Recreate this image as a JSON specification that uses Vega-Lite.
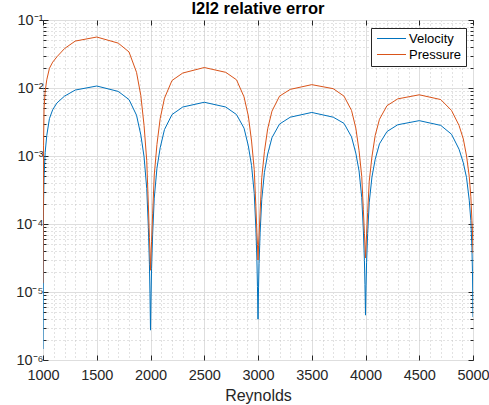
{
  "$schema": "https://vega.github.io/schema/vega-lite/v6.json",
  "width": 430,
  "height": 340,
  "autosize": {"type": "none"},
  "padding": {"left": 43, "top": 20, "right": 16, "bottom": 45},
  "background": "white",
  "title": {"text": "l2l2 relative error", "fontSize": 16.5, "fontWeight": "bold", "color": "#000000", "anchor": "middle", "offset": -5, "font": "Liberation Sans"},
  "config": {
    "view": {"stroke": "#262626", "strokeWidth": 1},
    "font": "Liberation Sans",
    "axis": {"domain": false, "tickColor": "#262626", "labelColor": "#262626", "labelFont": "Liberation Sans", "labelFontSize": 14.5, "titleFont": "Liberation Sans", "titleFontSize": 16, "titleFontWeight": "normal", "titleColor": "#262626", "labelFlush": false, "labelOverlap": false}
  },
  "data": {"values": [
    {"Re": 1000, "Velocity": 1.45e-6, "Pressure": 1.35e-5},
    {"Re": 1005, "Velocity": 2.00e-4, "Pressure": 1.41e-3},
    {"Re": 1010, "Velocity": 5.01e-4, "Pressure": 5.01e-3},
    {"Re": 1020, "Velocity": 1.12e-3, "Pressure": 8.91e-3},
    {"Re": 1035, "Velocity": 2.00e-3, "Pressure": 1.32e-2},
    {"Re": 1060, "Velocity": 3.55e-3, "Pressure": 1.95e-2},
    {"Re": 1090, "Velocity": 4.79e-3, "Pressure": 2.40e-2},
    {"Re": 1130, "Velocity": 6.03e-3, "Pressure": 2.88e-2},
    {"Re": 1200, "Velocity": 7.59e-3, "Pressure": 3.80e-2},
    {"Re": 1300, "Velocity": 9.33e-3, "Pressure": 4.90e-2},
    {"Re": 1500, "Velocity": 1.07e-2, "Pressure": 5.62e-2},
    {"Re": 1700, "Velocity": 8.91e-3, "Pressure": 4.57e-2},
    {"Re": 1800, "Velocity": 6.76e-3, "Pressure": 3.39e-2},
    {"Re": 1870, "Velocity": 3.98e-3, "Pressure": 1.70e-2},
    {"Re": 1910, "Velocity": 2.04e-3, "Pressure": 7.76e-3},
    {"Re": 1940, "Velocity": 9.77e-4, "Pressure": 2.82e-3},
    {"Re": 1965, "Velocity": 3.31e-4, "Pressure": 8.51e-4},
    {"Re": 1980, "Velocity": 8.91e-5, "Pressure": 1.91e-4},
    {"Re": 1990, "Velocity": 2.57e-5, "Pressure": 6.31e-5},
    {"Re": 1995, "Velocity": 9.55e-6, "Pressure": 3.89e-5},
    {"Re": 2000, "Velocity": 2.75e-6, "Pressure": 2.09e-5},
    {"Re": 2005, "Velocity": 8.71e-6, "Pressure": 3.63e-5},
    {"Re": 2010, "Velocity": 2.19e-5, "Pressure": 5.50e-5},
    {"Re": 2020, "Velocity": 7.08e-5, "Pressure": 1.41e-4},
    {"Re": 2035, "Velocity": 2.40e-4, "Pressure": 5.25e-4},
    {"Re": 2060, "Velocity": 6.61e-4, "Pressure": 1.48e-3},
    {"Re": 2090, "Velocity": 1.32e-3, "Pressure": 3.55e-3},
    {"Re": 2130, "Velocity": 2.45e-3, "Pressure": 7.08e-3},
    {"Re": 2200, "Velocity": 4.07e-3, "Pressure": 1.29e-2},
    {"Re": 2300, "Velocity": 5.25e-3, "Pressure": 1.66e-2},
    {"Re": 2500, "Velocity": 6.17e-3, "Pressure": 2.00e-2},
    {"Re": 2700, "Velocity": 5.25e-3, "Pressure": 1.70e-2},
    {"Re": 2800, "Velocity": 4.07e-3, "Pressure": 1.32e-2},
    {"Re": 2870, "Velocity": 2.57e-3, "Pressure": 7.41e-3},
    {"Re": 2910, "Velocity": 1.41e-3, "Pressure": 3.89e-3},
    {"Re": 2940, "Velocity": 7.24e-4, "Pressure": 1.66e-3},
    {"Re": 2965, "Velocity": 2.82e-4, "Pressure": 6.31e-4},
    {"Re": 2980, "Velocity": 8.71e-5, "Pressure": 1.82e-4},
    {"Re": 2990, "Velocity": 2.88e-5, "Pressure": 7.41e-5},
    {"Re": 2995, "Velocity": 1.20e-5, "Pressure": 5.01e-5},
    {"Re": 3000, "Velocity": 3.98e-6, "Pressure": 2.95e-5},
    {"Re": 3005, "Velocity": 1.15e-5, "Pressure": 4.79e-5},
    {"Re": 3010, "Velocity": 2.63e-5, "Pressure": 6.76e-5},
    {"Re": 3020, "Velocity": 7.59e-5, "Pressure": 1.55e-4},
    {"Re": 3035, "Velocity": 2.29e-4, "Pressure": 4.79e-4},
    {"Re": 3060, "Velocity": 5.75e-4, "Pressure": 1.17e-3},
    {"Re": 3090, "Velocity": 1.07e-3, "Pressure": 2.51e-3},
    {"Re": 3130, "Velocity": 1.86e-3, "Pressure": 4.57e-3},
    {"Re": 3200, "Velocity": 2.95e-3, "Pressure": 7.59e-3},
    {"Re": 3300, "Velocity": 3.72e-3, "Pressure": 9.55e-3},
    {"Re": 3500, "Velocity": 4.37e-3, "Pressure": 1.12e-2},
    {"Re": 3700, "Velocity": 3.72e-3, "Pressure": 9.77e-3},
    {"Re": 3800, "Velocity": 3.02e-3, "Pressure": 7.59e-3},
    {"Re": 3870, "Velocity": 1.91e-3, "Pressure": 4.68e-3},
    {"Re": 3910, "Velocity": 1.10e-3, "Pressure": 2.57e-3},
    {"Re": 3940, "Velocity": 6.03e-4, "Pressure": 1.20e-3},
    {"Re": 3965, "Velocity": 2.45e-4, "Pressure": 5.01e-4},
    {"Re": 3980, "Velocity": 8.13e-5, "Pressure": 1.62e-4},
    {"Re": 3990, "Velocity": 2.88e-5, "Pressure": 7.24e-5},
    {"Re": 3995, "Velocity": 1.29e-5, "Pressure": 5.01e-5},
    {"Re": 4000, "Velocity": 4.57e-6, "Pressure": 3.16e-5},
    {"Re": 4005, "Velocity": 1.23e-5, "Pressure": 4.90e-5},
    {"Re": 4010, "Velocity": 2.69e-5, "Pressure": 6.92e-5},
    {"Re": 4020, "Velocity": 7.24e-5, "Pressure": 1.48e-4},
    {"Re": 4035, "Velocity": 2.09e-4, "Pressure": 4.27e-4},
    {"Re": 4060, "Velocity": 4.90e-4, "Pressure": 9.77e-4},
    {"Re": 4090, "Velocity": 8.91e-4, "Pressure": 2.00e-3},
    {"Re": 4130, "Velocity": 1.51e-3, "Pressure": 3.47e-3},
    {"Re": 4200, "Velocity": 2.29e-3, "Pressure": 5.50e-3},
    {"Re": 4300, "Velocity": 2.88e-3, "Pressure": 6.92e-3},
    {"Re": 4500, "Velocity": 3.31e-3, "Pressure": 7.94e-3},
    {"Re": 4700, "Velocity": 2.82e-3, "Pressure": 6.76e-3},
    {"Re": 4800, "Velocity": 2.09e-3, "Pressure": 4.68e-3},
    {"Re": 4870, "Velocity": 1.26e-3, "Pressure": 2.82e-3},
    {"Re": 4910, "Velocity": 7.94e-4, "Pressure": 1.78e-3},
    {"Re": 4940, "Velocity": 4.79e-4, "Pressure": 1.00e-3},
    {"Re": 4965, "Velocity": 2.24e-4, "Pressure": 5.01e-4},
    {"Re": 4980, "Velocity": 1.12e-4, "Pressure": 2.51e-4},
    {"Re": 4990, "Velocity": 4.47e-5, "Pressure": 1.12e-4},
    {"Re": 4995, "Velocity": 2.00e-5, "Pressure": 7.94e-5},
    {"Re": 5000, "Velocity": 4.27e-6, "Pressure": 3.72e-5}
  ]},
  "transform": [{"fold": ["Velocity", "Pressure"], "as": ["series", "err"]}],
  "layer": [
    {
      "mark": {"type": "line", "strokeWidth": 1, "clip": true},
      "encoding": {
        "x": {
          "field": "Re", "type": "quantitative",
          "scale": {"domain": [1000, 5000], "nice": false, "zero": false},
          "axis": {
            "orient": "bottom", "title": "Reynolds", "titlePadding": 1,
            "values": [1000,1100,1200,1300,1400,1500,1600,1700,1800,1900,2000,2100,2200,2300,2400,2500,2600,2700,2800,2900,3000,3100,3200,3300,3400,3500,3600,3700,3800,3900,4000,4100,4200,4300,4400,4500,4600,4700,4800,4900,5000],
            "format": "d",
            "labelExpr": "datum.value % 500 === 0 ? datum.label : ''",
            "labelPadding": 13,
            "grid": true,
            "gridColor": {"condition": {"test": "datum.value % 500 === 0", "value": "#dedede"}, "value": "#c4c4c4"},
            "gridDash": {"condition": {"test": "datum.value % 500 === 0", "value": []}, "value": [1, 3]},
            "tickSize": {"condition": {"test": "datum.value % 500 === 0", "value": -5}, "value": 0}
          }
        },
        "y": {
          "field": "err", "type": "quantitative",
          "scale": {"type": "log", "domain": [1e-6, 0.1], "nice": false},
          "axis": {
            "orient": "left", "title": null,
            "values": [1e-6,2e-6,3e-6,4e-6,5e-6,6e-6,7e-6,8e-6,9e-6,1e-5,2e-5,3e-5,4e-5,5e-5,6e-5,7e-5,8e-5,9e-5,1e-4,2e-4,3e-4,4e-4,5e-4,6e-4,7e-4,8e-4,9e-4,1e-3,2e-3,3e-3,4e-3,5e-3,6e-3,7e-3,8e-3,9e-3,1e-2,2e-2,3e-2,4e-2,5e-2,6e-2,7e-2,8e-2,9e-2,1e-1],
            "labelExpr": "abs(log(datum.value)/LN10 - round(log(datum.value)/LN10)) < 0.001 ? '10' + ['⁰','⁻¹','⁻²','⁻³','⁻⁴','⁻⁵','⁻⁶'][-round(log(datum.value)/LN10)] : ''",
            "labelPadding": 5,
            "labelBaseline": "middle",
            "labelOffset": 0,
            "grid": true,
            "gridColor": {"condition": {"test": "abs(log(datum.value)/LN10 - round(log(datum.value)/LN10)) < 0.001", "value": "#dedede"}, "value": "#c4c4c4"},
            "gridDash": {"condition": {"test": "abs(log(datum.value)/LN10 - round(log(datum.value)/LN10)) < 0.001", "value": []}, "value": [1, 3]},
            "tickSize": {"condition": {"test": "abs(log(datum.value)/LN10 - round(log(datum.value)/LN10)) < 0.001", "value": -5}, "value": -3}
          }
        },
        "color": {
          "field": "series", "type": "nominal",
          "scale": {"domain": ["Velocity", "Pressure"], "range": ["#0072BD", "#D95319"]},
          "legend": {
            "title": null, "orient": "none", "legendX": 328, "legendY": 8,
            "strokeColor": "#262626", "fillColor": "white", "padding": 4,
            "symbolType": "M-2.9,0H2.9", "symbolSize": 100, "symbolStrokeWidth": 1,
            "symbolOffset": 10, "labelOffset": 11, "rowPadding": 2,
            "labelFontSize": 13, "labelColor": "#000000", "labelFont": "Liberation Sans"
          }
        }
      }
    },
    {
      "mark": {"type": "point", "opacity": 0},
      "encoding": {
        "x": {
          "field": "Re", "type": "quantitative",
          "scale": {"domain": [1000, 5000], "nice": false, "zero": false},
          "axis": {"orient": "top", "title": null, "labels": false, "grid": false, "values": [1000,1500,2000,2500,3000,3500,4000,4500,5000], "tickSize": -5}
        },
        "y": {
          "field": "err", "type": "quantitative",
          "scale": {"type": "log", "domain": [1e-6, 0.1], "nice": false},
          "axis": {
            "orient": "right", "title": null, "labels": false, "grid": false,
            "values": [1e-6,2e-6,3e-6,4e-6,5e-6,6e-6,7e-6,8e-6,9e-6,1e-5,2e-5,3e-5,4e-5,5e-5,6e-5,7e-5,8e-5,9e-5,1e-4,2e-4,3e-4,4e-4,5e-4,6e-4,7e-4,8e-4,9e-4,1e-3,2e-3,3e-3,4e-3,5e-3,6e-3,7e-3,8e-3,9e-3,1e-2,2e-2,3e-2,4e-2,5e-2,6e-2,7e-2,8e-2,9e-2,1e-1],
            "tickSize": {"condition": {"test": "abs(log(datum.value)/LN10 - round(log(datum.value)/LN10)) < 0.001", "value": -5}, "value": -3}
          }
        }
      }
    }
  ],
  "resolve": {"axis": {"x": "independent", "y": "independent"}}
}
